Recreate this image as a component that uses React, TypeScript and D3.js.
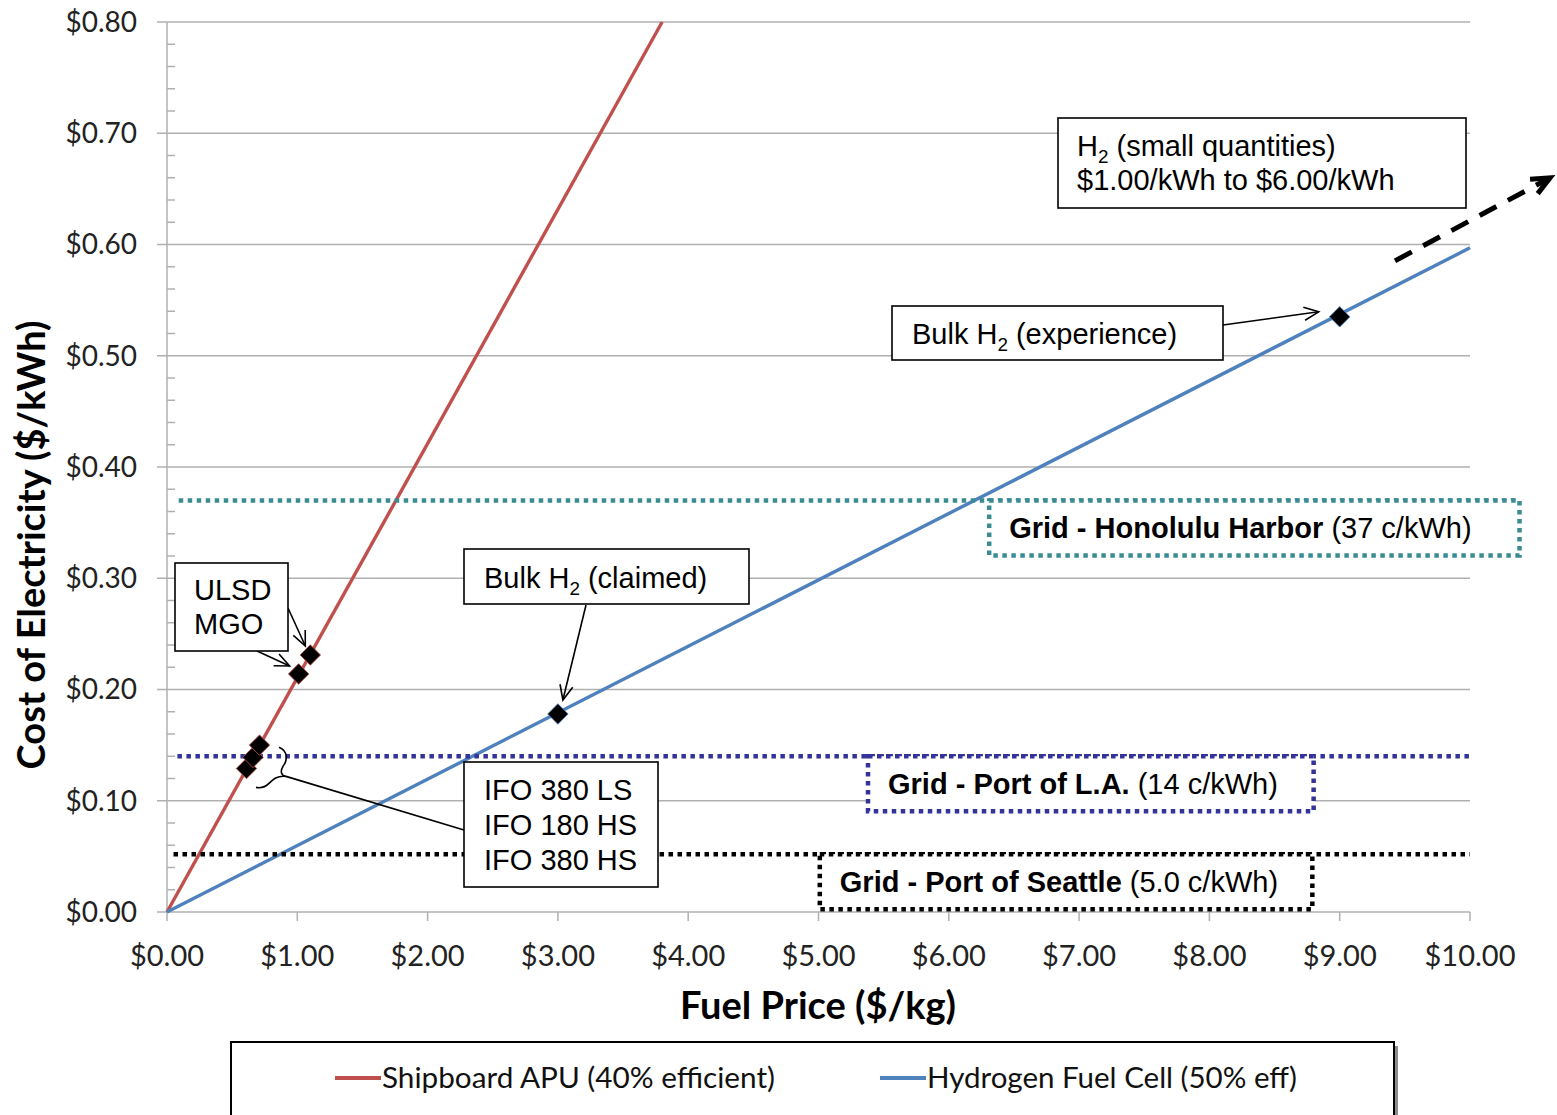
import React, { useEffect, useRef } from 'react';
import * as d3 from 'd3';

// axis ticks
const fuelTicks = [0, 1, 2, 3, 4, 5, 6, 7, 8, 9, 10];
const costTicks = [0, 0.1, 0.2, 0.3, 0.4, 0.5, 0.6, 0.7, 0.8];
const costMinorTicks = d3.range(0, 0.8001, 0.02);

// series (fuel price $/kg -> cost $/kWh)
const seriesNames = ['Shipboard APU (40% efficient)', 'Hydrogen Fuel Cell (50% eff)'];
const seriesColors = ['#C0504D', '#4F81BD'];
const apuPrice = [0, 3.8];
const apuCost = [0, 0.8];
const fcPrice = [0, 10];
const fcCost = [0, 0.597];

// marked fuels
const apuMarkPrice = [0.61, 0.66, 0.71, 1.01, 1.10];
const apuMarkCost = [0.129, 0.139, 0.150, 0.214, 0.231];
const fcMarkPrice = [3.0, 9.0];
const fcMarkCost = [0.178, 0.535];

// shore power references
const gridNames = ['Grid - Honolulu Harbor', 'Grid - Port of L.A.', 'Grid - Port of Seattle'];
const gridRateLabels = [' (37 c/kWh)', ' (14 c/kWh)', ' (5.0 c/kWh)'];
const gridRates = [0.37, 0.14, 0.052];
const gridColors = ['#3A8C92', '#333399', '#000000'];
const gridLineStart = [0.09, 0.08, 0.05];
const gridLineEnd = [10.38, 10, 10];
const gridBoxFrom = [6.31, 5.38, 5.01];
const gridBoxTo = [10.38, 8.8, 8.79];

type Part = { t: string; sub?: boolean; bold?: boolean };

const App: React.FC = () => {
  const ref = useRef<SVGSVGElement | null>(null);

  useEffect(() => {
    if (!ref.current) return;
    const svg = d3.select(ref.current);
    svg.selectAll('*').remove();

    const x = d3.scaleLinear().domain([0, 10]).range([167, 1470]);
    const y = d3.scaleLinear().domain([0, 0.8]).range([912, 22]);
    const grey = '#b0b0b0';
    const tickFont = 'Lato, "Open Sans", sans-serif';
    const annFont = '"Liberation Sans", Arial, sans-serif';
    const dots = '4.5 4.5';

    svg.append('rect').attr('width', 1557).attr('height', 1115).attr('fill', '#fff');

    // gridlines + y labels
    svg.append('g').selectAll('line').data(costTicks).enter().append('line')
      .attr('x1', 157).attr('x2', 1470)
      .attr('y1', d => y(d)).attr('y2', d => y(d))
      .attr('stroke', grey).attr('stroke-width', 1.5);
    svg.append('g').selectAll('line').data(costMinorTicks.filter(d => Math.abs(d * 10 - Math.round(d * 10)) > 1e-6)).enter().append('line')
      .attr('x1', 167).attr('x2', 175)
      .attr('y1', d => y(d)).attr('y2', d => y(d))
      .attr('stroke', grey).attr('stroke-width', 1.5);
    svg.append('line').attr('x1', 167).attr('x2', 167).attr('y1', y(0.8)).attr('y2', y(0))
      .attr('stroke', grey).attr('stroke-width', 1.5);
    svg.append('g').selectAll('line').data(fuelTicks).enter().append('line')
      .attr('x1', d => x(d)).attr('x2', d => x(d))
      .attr('y1', 912).attr('y2', 921)
      .attr('stroke', grey).attr('stroke-width', 1.5);

    svg.append('g').selectAll('text').data(costTicks).enter().append('text')
      .attr('x', 137).attr('y', d => y(d)).attr('dy', '0.35em')
      .attr('text-anchor', 'end')
      .style('font-family', tickFont).style('font-size', '28px').style('fill', '#222')
      .text(d => '$' + d.toFixed(2));
    svg.append('g').selectAll('text').data(fuelTicks).enter().append('text')
      .attr('x', d => x(d)).attr('y', 966)
      .attr('text-anchor', 'middle')
      .style('font-family', tickFont).style('font-size', '29px').style('fill', '#222')
      .text(d => '$' + d.toFixed(2));

    // axis titles
    svg.append('text')
      .attr('transform', 'translate(45,545) rotate(-90)')
      .attr('text-anchor', 'middle')
      .style('font-family', tickFont).style('font-size', '38px').style('font-weight', 'bold')
      .text('Cost of Electricity ($/kWh)');
    svg.append('text')
      .attr('x', 818).attr('y', 1019)
      .attr('text-anchor', 'middle')
      .style('font-family', tickFont).style('font-size', '38px').style('font-weight', 'bold')
      .text('Fuel Price ($/kg)');

    // series lines
    const line = d3.line<[number, number]>().x(d => x(d[0])).y(d => y(d[1]));
    const apu = apuPrice.map((p, i) => [p, apuCost[i]] as [number, number]);
    const fc = fcPrice.map((p, i) => [p, fcCost[i]] as [number, number]);
    [apu, fc].forEach((pts, i) => {
      svg.append('path').attr('d', line(pts)).attr('fill', 'none')
        .attr('stroke', seriesColors[i]).attr('stroke-width', 3.4);
    });

    // grid reference dotted lines and boxes
    gridRates.forEach((r, i) => {
      svg.append('line')
        .attr('x1', x(gridLineStart[i])).attr('x2', x(gridLineEnd[i]))
        .attr('y1', y(r)).attr('y2', y(r))
        .attr('stroke', gridColors[i]).attr('stroke-width', 4.5).attr('stroke-dasharray', dots);
    });

    const addText = (g: any, tx: number, ty: number, parts: Part[], size: number) => {
      const t = g.append('text').attr('x', tx).attr('y', ty)
        .style('font-family', annFont).style('font-size', size + 'px').style('fill', '#000');
      parts.forEach((p, k) => {
        const s = t.append('tspan').text(p.t);
        if (p.bold) s.style('font-weight', 'bold');
        if (p.sub) s.attr('dy', 7).style('font-size', (size * 0.65) + 'px');
        else if (k > 0 && parts[k - 1].sub) s.attr('dy', -7);
      });
      return t;
    };

    gridRates.forEach((r, i) => {
      const x0 = x(gridBoxFrom[i]);
      const x1 = x(gridBoxTo[i]);
      const y0 = y(r);
      svg.append('rect')
        .attr('x', x0).attr('y', y0).attr('width', x1 - x0).attr('height', 55)
        .attr('fill', '#fff').attr('stroke', gridColors[i]).attr('stroke-width', 4.5)
        .attr('stroke-dasharray', dots);
      addText(svg, x0 + 20, y0 + 38, [{ t: gridNames[i], bold: true }, { t: gridRateLabels[i] }], 29);
    });

    // arrow helper
    const arrow = (x1: number, y1: number, x2: number, y2: number, w = 1.6, head = 16, dash?: string) => {
      const g = svg.append('g');
      const l = g.append('line').attr('x1', x1).attr('y1', y1).attr('x2', x2).attr('y2', y2)
        .attr('stroke', '#000').attr('stroke-width', w);
      if (dash) l.attr('stroke-dasharray', dash);
      const a = Math.atan2(y2 - y1, x2 - x1);
      const sp = 0.42;
      g.append('path')
        .attr('d', `M${x2 - head * Math.cos(a - sp)},${y2 - head * Math.sin(a - sp)} L${x2},${y2} L${x2 - head * Math.cos(a + sp)},${y2 - head * Math.sin(a + sp)}`)
        .attr('fill', 'none').attr('stroke', '#000').attr('stroke-width', w);
    };

    // markers
    const diamond = d3.symbol().type(d3.symbolSquare).size(210);
    const marks = [
      ...apuMarkPrice.map((p, i) => [p, apuMarkCost[i], 0]),
      ...fcMarkPrice.map((p, i) => [p, fcMarkCost[i], 1]),
    ];
    svg.append('g').selectAll('path').data(marks).enter().append('path')
      .attr('d', diamond)
      .attr('transform', d => `translate(${x(d[0])},${y(d[1])}) rotate(45)`)
      .attr('fill', '#000')
      .attr('stroke', d => seriesColors[d[2]]).attr('stroke-width', 0.8);

    // annotation boxes
    const box = (bx: number, by: number, bw: number, bh: number) =>
      svg.append('rect').attr('x', bx).attr('y', by).attr('width', bw).attr('height', bh)
        .attr('fill', '#fff').attr('stroke', '#000').attr('stroke-width', 1.6);

    // ULSD / MGO
    const ulsd = [x(apuMarkPrice[4]), y(apuMarkCost[4])];
    const mgo = [x(apuMarkPrice[3]), y(apuMarkCost[3])];
    arrow(288, 608, ulsd[0] - 5, ulsd[1] - 9);
    arrow(257, 651, mgo[0] - 9, mgo[1] - 8);
    box(175, 563, 113, 88);
    addText(svg, 194, 600, [{ t: 'ULSD' }], 29);
    addText(svg, 194, 634, [{ t: 'MGO' }], 29);

    // IFO brace + connector
    const ifo = [x(apuMarkPrice[1]), y(apuMarkCost[1])];
    const bx = ifo[0], by = ifo[1];
    svg.append('path')
      .attr('d', `M${bx + 26},${by - 10} C${bx + 36},${by - 6} ${bx + 34},${by + 4} ${bx + 30},${by + 9} C${bx + 27},${by + 14} ${bx + 28},${by + 18} ${bx + 33},${by + 19} C${bx + 24},${by + 18} ${bx + 20},${by + 22} ${bx + 16},${by + 26} C${bx + 12},${by + 30} ${bx + 8},${by + 31} ${bx + 3},${by + 30}`)
      .attr('fill', 'none').attr('stroke', '#000').attr('stroke-width', 1.6);
    svg.append('line').attr('x1', bx + 33).attr('y1', by + 19).attr('x2', 464).attr('y2', 830)
      .attr('stroke', '#000').attr('stroke-width', 1.6);
    box(464, 762, 194, 125);
    addText(svg, 484, 800, [{ t: 'IFO 380 LS' }], 29);
    addText(svg, 484, 835, [{ t: 'IFO 180 HS' }], 29);
    addText(svg, 484, 870, [{ t: 'IFO 380 HS' }], 29);

    // Bulk H2 claimed
    const claimed = [x(fcMarkPrice[0]), y(fcMarkCost[0])];
    arrow(586, 605, claimed[0] + 5, claimed[1] - 14);
    box(464, 549, 285, 55);
    addText(svg, 484, 588, [{ t: 'Bulk H' }, { t: '2', sub: true }, { t: ' (claimed)' }], 29);

    // Bulk H2 experience
    const exp = [x(fcMarkPrice[1]), y(fcMarkCost[1])];
    arrow(1223, 325, exp[0] - 21, exp[1] - 5);
    box(892, 306, 331, 54);
    addText(svg, 912, 344, [{ t: 'Bulk H' }, { t: '2', sub: true }, { t: ' (experience)' }], 29);

    // small quantities
    box(1058, 118, 408, 90);
    addText(svg, 1077, 156, [{ t: 'H' }, { t: '2', sub: true }, { t: ' (small quantities)' }], 29);
    addText(svg, 1077, 190, [{ t: '$1.00/kWh to $6.00/kWh' }], 29);
    const end = [x(fcPrice[1]), y(fcCost[1])];
    arrow(end[0] - 75, end[1] + 13, end[0] + 80, end[1] - 70, 5, 20, '19 13');

    // legend
    svg.append('rect').attr('x', 235).attr('y', 1046).attr('width', 1163).attr('height', 90).attr('fill', '#8c8c8c');
    svg.append('rect').attr('x', 231).attr('y', 1042).attr('width', 1163).attr('height', 90)
      .attr('fill', '#fff').attr('stroke', '#000').attr('stroke-width', 2);
    const legX = [335, 880];
    const legW = [393, 370];
    seriesNames.forEach((n, i) => {
      svg.append('line').attr('x1', legX[i]).attr('x2', legX[i] + 46).attr('y1', 1078).attr('y2', 1078)
        .attr('stroke', seriesColors[i]).attr('stroke-width', 4);
      svg.append('text').attr('x', legX[i] + 47).attr('y', 1088)
        .attr('textLength', legW[i]).attr('lengthAdjust', 'spacingAndGlyphs')
        .style('font-family', tickFont).style('font-size', '29px').style('fill', '#111')
        .text(n);
    });
  }, []);

  return (
    <div style={{ position: 'absolute', left: 0, top: 0 }}>
      <svg ref={ref} width={1557} height={1115} style={{ display: 'block' }} />
    </div>
  );
};

export default App;
